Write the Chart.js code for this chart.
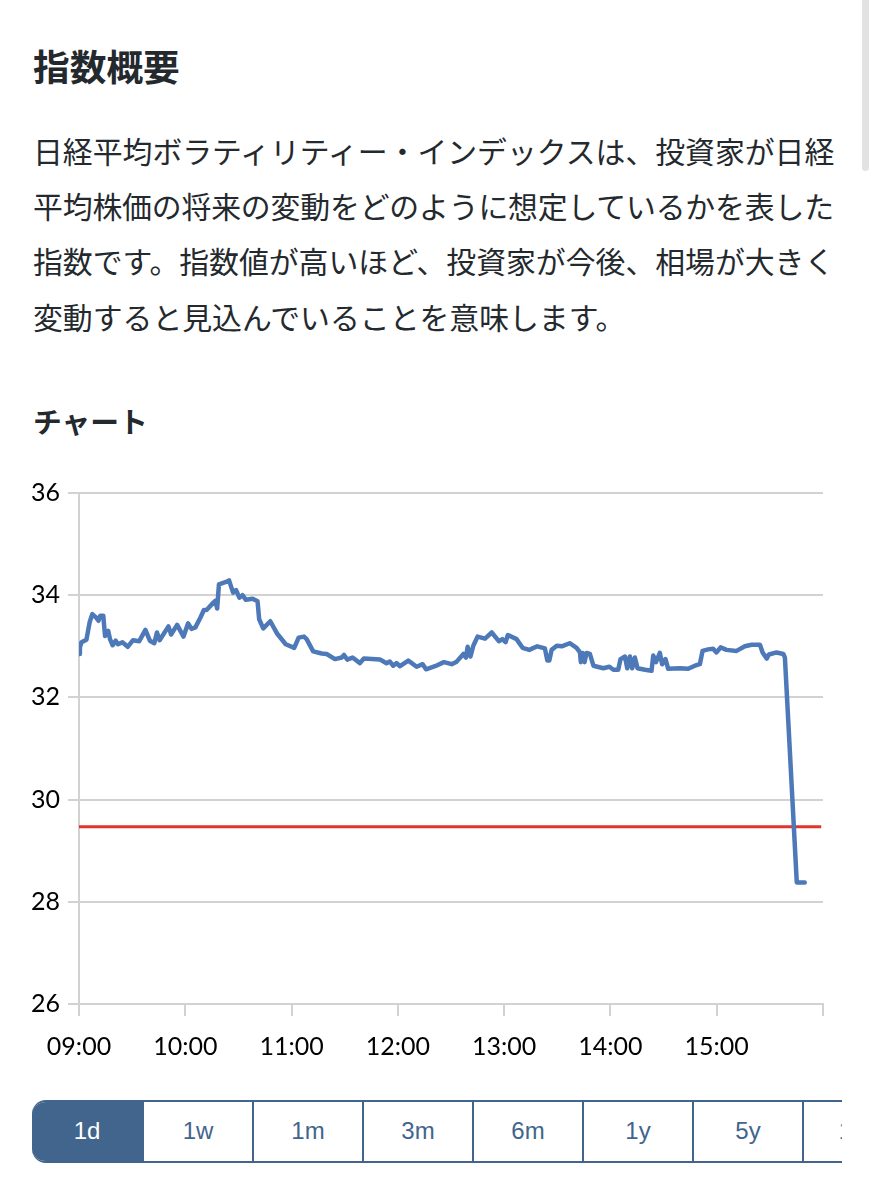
<!DOCTYPE html>
<html lang="ja">
<head>
<meta charset="utf-8">
<title>指数概要</title>
<script src="https://cdn.jsdelivr.net/npm/chart.js@4"></script>
<style>
html, body { margin: 0; padding: 0; background: #fff; }
body { position: relative; width: 874px; height: 1200px; overflow: hidden; font-family: "Noto Sans CJK JP", sans-serif; color: #24292e; }
h2, h3, p { margin: 0; position: absolute; left: 33px; white-space: nowrap; }
h2 { top: 38px; font-size: 36.7px; line-height: 54px; font-weight: 700; }
h3 { top: 400px; font-size: 28.8px; line-height: 42px; font-weight: 700; }
p { top: 123px; font-size: 29.85px; line-height: 55.2px; font-weight: 400; }
p span { letter-spacing: -0.15px; }
#scrollbar { position: absolute; left: 862px; top: 0; width: 7px; height: 171px; background: #e2e2e2; border-radius: 0 0 4px 4px; }
#chart { position: absolute; left: 0; top: 470px; }
#tabs { position: absolute; left: 32px; top: 1100px; width: 810px; height: 63px; overflow: hidden; display: flex; box-sizing: border-box; border: solid #41658d; border-width: 2px 0 2px 0; border-radius: 14px 0 0 14px; font-family: "Liberation Sans", sans-serif; font-size: 24px; color: #41658d; }
#tabs div { flex: 0 0 110px; box-sizing: border-box; border-left: 2px solid #41658d; text-align: center; line-height: 58px; background: #fff; }
#tabs div.on { flex: 0 0 110px; background: #41658d; color: #fff; border-left: 0; }
</style>
</head>
<body>
<div id="scrollbar"></div>
<h2>指数概要</h2>
<p>日経平均ボラティリティー・インデックスは、投資家が日経<br><span>平均株価の将来の変動をどのように想定しているかを表した</span><br>指数です。指数値が高いほど、投資家が今後、相場が大きく<br>変動すると見込んでいることを意味します。</p>
<h3>チャート</h3>
<canvas id="chart" width="874" height="600"></canvas>
<div id="tabs"></div>
<script>
// minutes after 09:00
var minutes = [0, 0.5, 1.4, 4.2, 6, 7.5, 9.7, 11, 12, 13.7, 14.7, 16.5, 17.5, 19, 20.7, 22, 24.5, 27.5, 30.5, 34, 37.5, 40, 42.5, 44, 45.5, 50.5, 52, 55.4, 59, 61.6, 63.5, 65.7, 68.5, 70.5, 72, 76, 77, 78, 79, 83, 84.7, 87, 88.7, 90.5, 92.3, 94.2, 98, 100.8, 101.7, 104, 108, 112, 116.7, 121.5, 124, 127,
    128.5, 132.2, 137, 139.8, 144.5, 148.3, 149.6, 151.4, 154.4, 158.6, 160.8, 169.9, 173.6, 175.5, 177.4, 179.3, 181.2, 185.9, 190.6, 194, 195.9, 201, 206, 210.4, 213.2, 217, 218.4, 219.4, 221, 222.6, 225, 229.2, 233, 237, 239, 240.8, 242.1, 247, 250.4, 254.2, 258.7, 263, 264.4, 265.5, 266.8, 269.7, 272.5,
    277, 280.9, 282.8, 283.3, 284.3, 285.4, 286.5, 288.4, 290.4, 296, 299.4, 301.7, 304.4, 305.7, 308.2, 309.5, 311, 312.3, 313.8, 315.3, 319.5, 323.2, 324.2, 325.7, 327.9, 329.2, 331.1, 332.6, 339.2, 343.9, 347.7, 350.5, 352, 355.2, 358, 359.9, 362.2, 365.5, 371.2, 375.9, 379.7, 384.4, 385.9, 388.2, 389.5, 393.8, 397.6, 398.5, 405.2, 409.7];
var vixValues = [32.85, 32.98, 33.08, 33.13, 33.47, 33.63, 33.56, 33.5, 33.6, 33.6, 33.2, 33.3, 33.14, 33.02, 33.11, 33.04, 33.08, 32.99, 33.12, 33.1, 33.32, 33.11, 33.06, 33.27, 33.12, 33.39, 33.23, 33.42, 33.19, 33.45, 33.34, 33.37, 33.56, 33.71, 33.71, 33.86, 33.89, 33.74, 34.21, 34.26, 34.29, 34.05, 34.1, 33.95, 34.0, 33.91, 33.93, 33.88, 33.53, 33.35, 33.49, 33.24, 33.04, 32.97, 33.17, 33.19,
    33.14, 32.9, 32.86, 32.85, 32.75, 32.78, 32.83, 32.74, 32.78, 32.67, 32.76, 32.74, 32.67, 32.7, 32.62, 32.67, 32.61, 32.72, 32.6, 32.65, 32.55, 32.61, 32.69, 32.65, 32.7, 32.85, 32.78, 32.99, 32.8, 33.01, 33.19, 33.15, 33.27, 33.1, 33.14, 33.08, 33.22, 33.14, 32.97, 32.93, 33.0, 32.96, 32.72, 32.72, 32.93, 33.01, 33.0,
    33.06, 32.97, 32.88, 32.69, 32.87, 32.69, 32.87, 32.85, 32.62, 32.57, 32.6, 32.54, 32.54, 32.75, 32.8, 32.57, 32.8, 32.57, 32.78, 32.57, 32.54, 32.52, 32.82, 32.69, 32.87, 32.65, 32.75, 32.56, 32.57, 32.56, 32.62, 32.65, 32.91, 32.94, 32.95, 32.88, 32.98, 32.93, 32.91, 33.0, 33.03, 33.03, 32.88, 32.76, 32.84, 32.88, 32.85, 32.78, 28.38, 28.38];
var refMinutes = [0, 419];
var refValues = [29.47, 29.47];
var timeLabels = ['09:00', '10:00', '11:00', '12:00', '13:00', '14:00', '15:00', ''];
var periodLabels = ['1d', '1w', '1m', '3m', '6m', '1y', '5y', '10y'];

var toPoints = function (xs, ys) {
    return xs.map(function (x, i) {
        return {x: x, y: ys[i]};
    });
};

var tabs = document.getElementById('tabs');
periodLabels.forEach(function (label, i) {
    var cell = document.createElement('div');
    cell.textContent = label;
    if (i == 0) cell.className = 'on';
    tabs.appendChild(cell);
});

var axisColor = '#d2d2d2';
new Chart(document.getElementById('chart').getContext('2d'), {
    type: 'line',
    data: {
        datasets: [{
            data: toPoints(minutes, vixValues),
            borderColor: '#4e79b8',
            borderWidth: 4.5,
            borderJoinStyle: 'round',
            borderCapStyle: 'round',
            pointRadius: 0,
            tension: 0
        }, {
            data: toPoints(refMinutes, refValues),
            borderColor: '#e0352b',
            borderWidth: 3,
            pointRadius: 0,
            tension: 0
        }]
    },
    options: {
        responsive: false,
        animation: false,
        events: [],
        layout: {padding: {top: 22, right: 51, left: 0, bottom: 0}},
        plugins: {legend: {display: false}, tooltip: {enabled: false}},
        scales: {
            x: {
                type: 'linear',
                min: 0,
                max: 420,
                afterFit: function (scale) { scale.height = 66; },
                afterBuildTicks: function (scale) {
                    scale.ticks = timeLabels.map(function (t, i) { return {value: i * 60}; });
                },
                grid: {drawOnChartArea: false, drawTicks: true, tickLength: 12, color: axisColor, lineWidth: 2},
                border: {color: axisColor, width: 2},
                ticks: {
                    autoSkip: false,
                    maxRotation: 0,
                    padding: 16,
                    color: '#000',
                    font: {family: 'Lato', size: 25},
                    callback: function (value) { return timeLabels[value / 60]; }
                }
            },
            y: {
                min: 26,
                max: 36,
                afterFit: function (scale) { scale.width = 79; },
                grid: {color: axisColor, lineWidth: 2, tickLength: 11},
                border: {color: axisColor, width: 2},
                ticks: {stepSize: 2, padding: 8, color: '#000', font: {family: 'Lato', size: 25}}
            }
        }
    }
});
</script>
</body>
</html>
